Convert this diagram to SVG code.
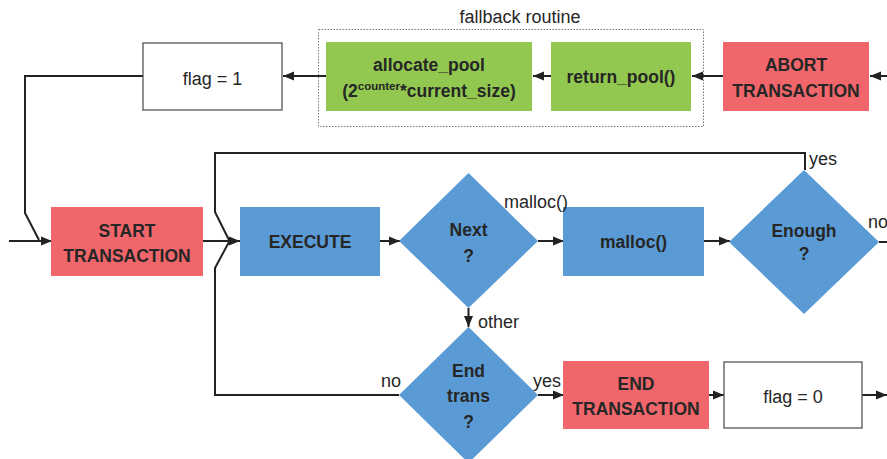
<svg xmlns="http://www.w3.org/2000/svg" width="887" height="459" viewBox="0 0 887 459">
<defs>
<marker id="ah" markerUnits="userSpaceOnUse" markerWidth="12" markerHeight="12" refX="11" refY="6" orient="auto">
<path d="M0,1.5 L11,6 L0,10.5 Z" fill="#222"/>
</marker>
<style>
.red{fill:#F1666A}
.grn{fill:#92C850}
.blu{fill:#5B9BD5}
.wht{fill:#fff;stroke:#555;stroke-width:1.3}
.b{font-family:"Liberation Sans",Arial,sans-serif;font-weight:bold;font-size:17.5px;fill:#262626;text-anchor:middle}
.r{font-family:"Liberation Sans",Arial,sans-serif;font-size:18px;fill:#262626;text-anchor:middle}
.l{font-family:"Liberation Sans",Arial,sans-serif;font-size:18px;fill:#262626}
.c{fill:none;stroke:#222;stroke-width:2}
.a{marker-end:url(#ah)}
</style>
</defs>
<rect width="887" height="459" fill="#fff"/>

<g id="fallback">
<rect x="318.5" y="29.5" width="385" height="97" fill="none" stroke="#777" stroke-width="1" stroke-dasharray="1.5,1.5"/>
<text class="l" x="520" y="23" text-anchor="middle" font-size="19">fallback routine</text>
</g>

<g id="connectors">
<path class="c a" d="M887,76 L870,76"/>
<path class="c a" d="M723,76 L692,76"/>
<path class="c a" d="M551,76 L533,76"/>
<path class="c a" d="M326,76 L283,76"/>
<path class="c" d="M143,76 L25,76 L25,213 L39,240"/>
<path class="c a" d="M9,241 L52,241"/>
<path class="c a" d="M203,241 L240,241"/>
<path class="c" d="M805,170 L805,153 L215,153 L215,212 L229,240"/>
<path class="c" d="M399,395 L215,395 L215,268 L229,242"/>
<path class="c a" d="M380,241 L400,241"/>
<path class="c a" d="M538,241 L564,241"/>
<path class="c a" d="M468.5,308 L468.5,327"/>
<path class="c a" d="M704,241 L730,241"/>
<path class="c" d="M879,242 L887,242"/>
<path class="c a" d="M538,395 L564,395"/>
<path class="c a" d="M709,395 L724,395"/>
<path class="c a" d="M862,395 L887,395"/>
</g>

<g id="abort">
<rect class="red" x="723" y="42" width="146" height="69"/>
<text class="b" x="796" y="71">ABORT</text>
<text class="b" x="796" y="97">TRANSACTION</text>
</g>

<g id="return_pool">
<rect class="grn" x="551" y="42" width="140" height="69"/>
<text class="b" x="621" y="83">return_pool()</text>
</g>

<g id="allocate_pool">
<rect class="grn" x="326" y="42" width="206" height="69"/>
<text class="b" x="429" y="71">allocate_pool</text>
<text class="b" x="429" y="97">(2<tspan font-size="11.5" dy="-7">counter</tspan><tspan dy="7">*current_size)</tspan></text>
</g>

<g id="flag1">
<rect class="wht" x="143" y="43" width="139" height="67"/>
<text class="r" x="212.5" y="85">flag = 1</text>
</g>

<g id="start">
<rect class="red" x="51" y="207" width="152" height="69"/>
<text class="b" x="127" y="237">START</text>
<text class="b" x="127" y="262">TRANSACTION</text>
</g>

<g id="execute">
<rect class="blu" x="240" y="207" width="140" height="69"/>
<text class="b" x="310" y="248">EXECUTE</text>
</g>

<g id="next">
<polygon class="blu" points="468.5,173 538,241 468.5,308 399,241"/>
<text class="b" x="468.5" y="236">Next</text>
<text class="b" x="468.5" y="262">?</text>
</g>

<g id="malloc">
<rect class="blu" x="563" y="207" width="141" height="69"/>
<text class="b" x="633.5" y="248">malloc()</text>
</g>

<g id="enough">
<polygon class="blu" points="804,170 879,242 804,314 729,242"/>
<text class="b" x="804" y="237">Enough</text>
<text class="b" x="804" y="260">?</text>
</g>

<g id="endtrans">
<polygon class="blu" points="468.5,327 538,395 468.5,463 399,395"/>
<text class="b" x="468.5" y="377">End</text>
<text class="b" x="468.5" y="402">trans</text>
<text class="b" x="468.5" y="428">?</text>
</g>

<g id="end">
<rect class="red" x="563" y="361" width="146" height="68"/>
<text class="b" x="636" y="390">END</text>
<text class="b" x="636" y="415">TRANSACTION</text>
</g>

<g id="flag0">
<rect class="wht" x="724" y="362" width="138" height="66"/>
<text class="r" x="793" y="403">flag = 0</text>
</g>

<g id="labels">
<text class="l" x="504" y="208">malloc()</text>
<text class="l" x="478" y="328">other</text>
<text class="l" x="809" y="165">yes</text>
<text class="l" x="868" y="228">no</text>
<text class="l" x="381" y="387">no</text>
<text class="l" x="533" y="387">yes</text>
</g>
</svg>
